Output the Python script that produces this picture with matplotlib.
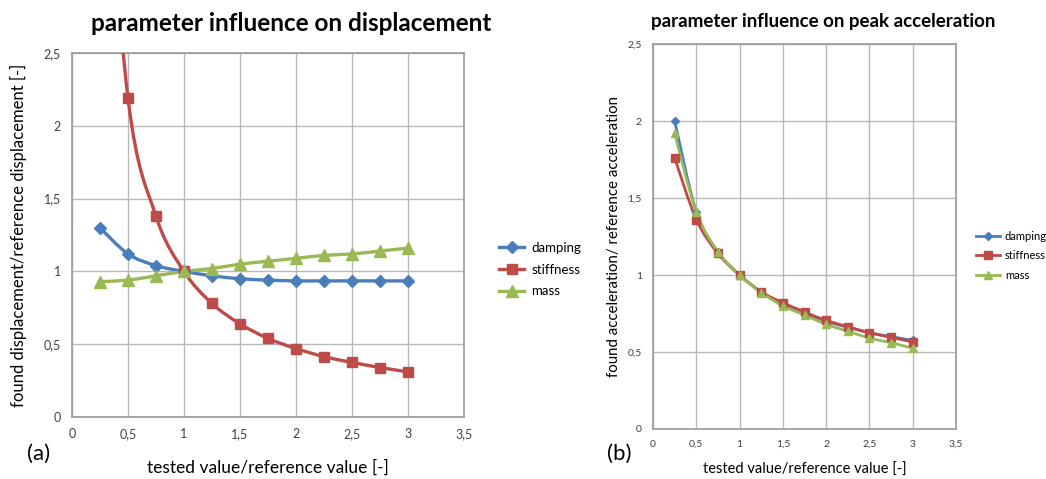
import numpy as np
import matplotlib.pyplot as plt
from matplotlib.path import Path
from matplotlib.patches import PathPatch
from matplotlib.ticker import FuncFormatter

plt.rcParams['font.family'] = ['Lato', 'DejaVu Sans']

# tested value / reference value
ratio = [0.25, 0.5, 0.75, 1.0, 1.25, 1.5, 1.75, 2.0, 2.25, 2.5, 2.75, 3.0]

# (a) displacement ratios
disp_damping = [1.30, 1.12, 1.04, 1.00, 0.97, 0.95, 0.94, 0.935, 0.935, 0.935, 0.935, 0.935]
disp_stiffness = [4.5, 2.19, 1.38, 1.00, 0.78, 0.64, 0.54, 0.47, 0.415, 0.375, 0.34, 0.31]
disp_mass = [0.93, 0.94, 0.97, 1.00, 1.02, 1.05, 1.07, 1.09, 1.11, 1.12, 1.14, 1.16]

# (b) peak acceleration ratios
acc_damping = [2.00, 1.41, 1.15, 1.00, 0.89, 0.81, 0.75, 0.70, 0.66, 0.625, 0.60, 0.575]
acc_stiffness = [1.76, 1.36, 1.14, 1.00, 0.89, 0.82, 0.76, 0.705, 0.665, 0.625, 0.595, 0.565]
acc_mass = [1.92, 1.41, 1.15, 1.00, 0.885, 0.80, 0.74, 0.68, 0.635, 0.59, 0.56, 0.525]

names = ['damping', 'stiffness', 'mass']
colors = ['#4a7ebb', '#be4b48', '#98b954']
markers = ['D', 's', '^']


def smooth_path(x, y):
    # cubic bezier through the points, tangents from neighbours
    p = np.column_stack([x, y])
    verts = [p[0]]
    codes = [Path.MOVETO]
    n = len(p)
    for i in range(n - 1):
        p0 = p[max(i - 1, 0)]
        p1, p2 = p[i], p[i + 1]
        p3 = p[min(i + 2, n - 1)]
        verts += [p1 + (p2 - p0) / 6, p2 - (p3 - p1) / 6, p2]
        codes += [Path.CURVE4] * 3
    return Path(verts, codes)


def comma(v, pos):
    s = '%g' % v
    return s.replace('.', ',')


def draw(ax, series, lw, msizes, fs_tick):
    for ys, name, c, m, ms in zip(series, names, colors, markers, msizes):
        ax.add_patch(PathPatch(smooth_path(ratio, ys), fill=False, edgecolor=c,
                               lw=lw, zorder=3))
        ax.plot(ratio, ys, ls='none', marker=m, ms=ms, color=c, zorder=4)
        ax.plot([], [], color=c, lw=lw, marker=m, ms=ms, label=name)
    ax.set_xlim(0, 3.5)
    ax.set_ylim(0, 2.5)
    ax.set_xticks(np.arange(0, 3.6, 0.5))
    ax.set_yticks(np.arange(0, 2.6, 0.5))
    ax.xaxis.set_major_formatter(FuncFormatter(comma))
    ax.yaxis.set_major_formatter(FuncFormatter(comma))
    ax.grid(True, color='#b8b8b8', lw=1)
    ax.set_axisbelow(True)
    for sp in ax.spines.values():
        sp.set_color('#9a9a9a')
        sp.set_linewidth(1.2)
    ax.tick_params(length=0, labelsize=fs_tick, colors='#404040', pad=8)


fig = plt.figure(figsize=(10.46, 4.79), dpi=100)

ax1 = fig.add_axes([0.0688, 0.1294, 0.3748, 0.7599])
draw(ax1, [disp_damping, disp_stiffness, disp_mass], 2.4, [6, 7.5, 8], 9)
ax1.set_title('parameter influence on displacement', fontsize=17.5,
              fontweight='bold', pad=16, x=0.56)
ax1.set_ylabel('found displacement/reference displacement [-]', fontsize=12,
               labelpad=12)
ax1.set_xlabel('tested value/reference value [-]', fontsize=12.5, labelpad=14)
ax1.legend(loc='center left', bbox_to_anchor=(1.06, 0.405), frameon=False,
           fontsize=9.5, handlelength=1.9, handletextpad=0.5,
           labelspacing=0.75)

ax2 = fig.add_axes([0.6243, 0.1044, 0.2897, 0.8037])
draw(ax2, [acc_damping, acc_stiffness, acc_mass], 2.0, [4.5, 6, 6], 7.5)
ax2.set_title('parameter influence on peak acceleration', fontsize=13.5,
              fontweight='bold', pad=12, x=0.56)
ax2.set_ylabel('found acceleration/ reference acceleration', fontsize=10.8,
               labelpad=5)
ax2.set_xlabel('tested value/reference value [-]', fontsize=10.5, labelpad=10)
ax2.legend(loc='center left', bbox_to_anchor=(1.04, 0.45), frameon=False,
           fontsize=8, handlelength=2.2, handletextpad=0.4,
           labelspacing=0.75, borderaxespad=0.3)

fig.text(0.026, 0.04, '(a)', fontsize=16)
fig.text(0.58, 0.04, '(b)', fontsize=16)

fig.savefig('out.png', dpi=100)
